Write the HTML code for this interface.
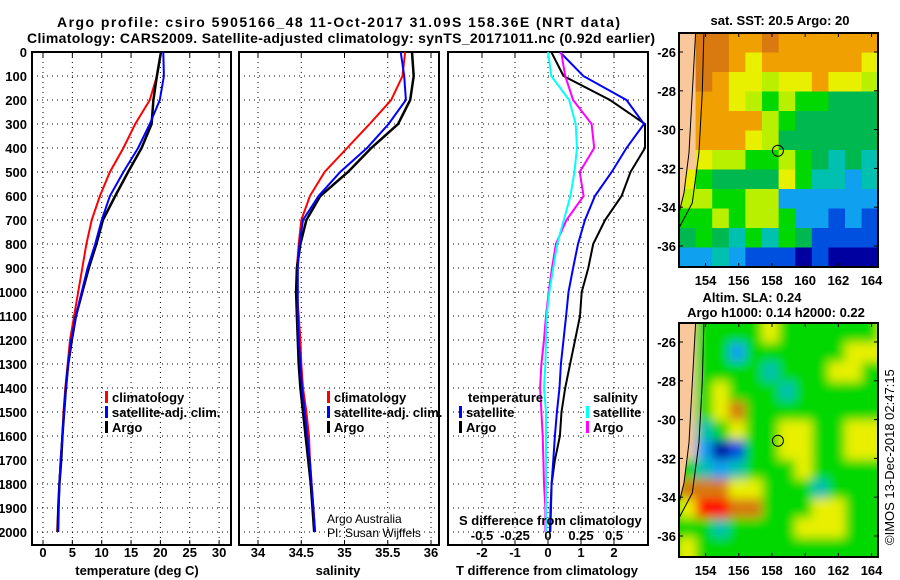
<!DOCTYPE html>
<html><head><meta charset="utf-8"><style>
html,body{margin:0;padding:0;background:#fff;}
svg{display:block;font-family:"Liberation Sans",sans-serif;}
.b{font-weight:bold;font-size:13px;}
</style></head><body>
<svg id="fig" width="900" height="580" viewBox="0 0 900 580" xmlns="http://www.w3.org/2000/svg">
<defs>
<filter id="blur" x="-0.2" y="-0.2" width="1.4" height="1.4"><feGaussianBlur stdDeviation="5"/></filter>
<clipPath id="clipTop"><rect x="679" y="33" width="199" height="234"/></clipPath>
<clipPath id="clipBot"><rect x="679" y="323" width="199" height="234"/></clipPath>
<clipPath id="c1"><rect x="32" y="52" width="199" height="493"/></clipPath>
<clipPath id="c2"><rect x="239" y="52" width="200" height="493"/></clipPath>
<clipPath id="c3"><rect x="448" y="52" width="200" height="493"/></clipPath>
</defs>
<text x="57" y="27" class="b" style="font-size:14px" textLength="563">Argo profile: csiro 5905166_48 11-Oct-2017 31.09S 158.36E (NRT data)</text>
<text x="27" y="43" class="b" style="font-size:14px" textLength="628">Climatology: CARS2009. Satellite-adjusted climatology: synTS_20171011.nc (0.92d earlier)</text>
<g id="axes"></g>
<g id="maps"></g>
<text x="327" y="523" font-size="12">Argo Australia</text>
<text x="327" y="537" font-size="12">PI: Susan Wijffels</text>
<text x="459" y="525" class="b">S difference from climatology</text>
<text x="137" y="575" class="b" text-anchor="middle">temperature (deg C)</text>
<text x="338" y="575" class="b" text-anchor="middle">salinity</text>
<text x="547" y="575" class="b" text-anchor="middle">T difference from climatology</text>
<text x="780" y="25" class="b" text-anchor="middle">sat. SST: 20.5 Argo: 20</text>
<text x="752" y="302" class="b" text-anchor="middle">Altim. SLA: 0.24</text>
<text x="776" y="317" class="b" text-anchor="middle">Argo h1000: 0.14 h2000: 0.22</text>
<text transform="translate(894,545) rotate(-90)" font-size="13">©IMOS 13-Dec-2018 02:47:15</text>
</svg>
<script>
const depths=[0,100,200,300,400,500,600,700,800,900,1000,1100,1200,1300,1400,1500,1600,1700,1800,1900,2000];
const tempClim=[20.1,19.4,18.2,15.7,13.7,11.4,9.7,8.3,7.4,6.7,6.0,5.3,4.6,4.2,3.8,3.5,3.3,3.0,2.8,2.6,2.4];
const tempSat=[20.5,20.6,19.9,18.2,16.2,13.7,11.4,10.0,8.9,7.6,6.6,5.6,4.8,4.3,3.9,3.6,3.3,3.0,2.8,2.7,2.6];
const tempArgo=[20.1,19.4,18.8,18.5,16.8,14.5,12.3,10.2,9.1,7.8,6.7,5.6,4.9,4.3,3.9,3.6,3.3,3.1,2.8,2.6,2.5];
const salClim=[35.70,35.67,35.54,35.29,35.03,34.77,34.60,34.50,34.47,34.45,34.45,34.47,34.49,34.50,34.52,34.56,34.59,34.60,34.62,34.64,34.66];
const salSat=[35.65,35.69,35.71,35.51,35.26,34.95,34.70,34.52,34.48,34.46,34.46,34.46,34.47,34.49,34.51,34.54,34.57,34.60,34.62,34.64,34.66];
const salArgo=[35.78,35.80,35.76,35.62,35.31,35.04,34.72,34.56,34.49,34.45,34.44,34.45,34.46,34.47,34.49,34.52,34.55,34.58,34.61,34.63,34.65];
const tDiffSat=[0.36,1.07,2.38,2.91,2.38,1.93,1.42,1.12,0.91,0.76,0.62,0.55,0.47,0.39,0.35,0.27,0.21,0.16,0.11,0.09,0.07];
const tDiffArgo=[0.10,0.47,1.88,2.94,2.94,2.50,2.23,1.73,1.37,1.22,1.02,0.97,0.82,0.67,0.52,0.41,0.36,0.21,0.11,0.08,0.06];
const sDiffSat=[0.00,0.025,0.16,0.21,0.22,0.20,0.17,0.12,0.07,0.04,0.01,-0.01,-0.015,-0.02,-0.03,-0.015,-0.015,-0.015,-0.015,-0.015,-0.015];
const sDiffArgo=[0.10,0.13,0.19,0.33,0.35,0.24,0.27,0.14,0.06,0.03,0.005,-0.015,-0.03,-0.05,-0.06,-0.05,-0.04,-0.035,-0.03,-0.02,-0.02];
const depthTicks=[0,100,200,300,400,500,600,700,800,900,1000,1100,1200,1300,1400,1500,1600,1700,1800,1900,2000];
const tempTicks=[0,5,10,15,20,25,30];
const salTicks=[34,34.5,35,35.5,36];
const tDiffTicks=[-2,-1,0,1,2];
const sDiffTicks=[-0.5,-0.25,0,0.25,0.5];
const sDiffLabels=["-0.5","-0.25","0","0.25","0.5"];
const lonTicks=[154,156,158,160,162,164];
const latTicks=[-26,-28,-30,-32,-34,-36];
const sstGrid=["LooOOoOOOOOO","LooOyOOOOOOy","LoOyyYyyOyyY","LOOyYgYggGGG","LOOOOYgGGGGG","LOOOyYGGGGGG","LyYYggYgGtGt","ygGGGGygttct","YYggYYcccccc","ggYgYYgccbcb","GgGtgtgGbbbb","cctcbbbnbnnn"];
const slaGrid=["Lggggyggggggy","Lggcggggggyyy","Lggggtgggyygg","Lgygggtgggggg","Lgyoggggggggg","Ltgyggyyggyyy","Lcnbggyyggyyy","gtctgggyggggg","oooyygggtgggg","yrroogggyyggg","ggtggggyyyggg","ygggggggggggg"];
const NS="http://www.w3.org/2000/svg";
const axes=document.getElementById('axes');
const maps=document.getElementById('maps');
function mk(tag,attrs,parent){const e=document.createElementNS(NS,tag);for(const k in attrs)e.setAttribute(k,attrs[k]);(parent||axes).appendChild(e);return e;}
const yD=d=>52+0.24*d;
const xT=t=>43+t*5.87;
const xS=s=>258+(s-34)*86.5;
const xTD=t=>548+t*33;
const xSD=s=>548+s*132;
function panel(x0,x1,xs,ticks,labels,name){
  const g=mk('g',{});
  
  
  depthTicks.forEach(d=>{ if(d>0) mk('line',{x1:x0,x2:x1,y1:yD(d),y2:yD(d),stroke:'#000','stroke-dasharray':'1,4'},g);});
  ticks.forEach((t,i)=>{const x=xs(t);
    mk('line',{x1:x,x2:x,y1:52,y2:545,stroke:'#000','stroke-dasharray':'1,4'},g);
    mk('line',{x1:x,x2:x,y1:52,y2:57,stroke:'#000'},g);
    mk('line',{x1:x,x2:x,y1:540,y2:545,stroke:'#000'},g);
    if(labels){const tx=mk('text',{x:x,y:557,'text-anchor':'middle',class:'b'},g);tx.textContent=labels[i];}
  });
  mk('rect',{x:x0,y:52,width:x1-x0,height:493,fill:'none',stroke:'#000','stroke-width':2},g);
  return g;
}
panel(32,231,xT,tempTicks,tempTicks.map(String),'temperature-panel');
panel(239,439,xS,salTicks,salTicks.map(String),'salinity-panel');
panel(448,648,xTD,tDiffTicks,tDiffTicks.map(String),'difference-panel');
sDiffTicks.forEach((s,i)=>{const t=mk('text',{x:xSD(s),y:540,'text-anchor':'middle',class:'b'});
  
  
  t.textContent=sDiffLabels[i];});
depthTicks.forEach(d=>{const t=mk('text',{x:27,y:yD(d)+5,'text-anchor':'end',class:'b'});
  
  
  t.textContent=d;});
function line(vals,xs,color,w,clip,name){
  const pts=vals.map((v,i)=>xs(v).toFixed(1)+','+yD(depths[i]).toFixed(1)).join(' ');
  const p=mk('polyline',{points:pts,fill:'none',stroke:color,'stroke-width':w,'clip-path':'url(#'+clip+')'});
  
  
}
line(tempClim,xT,'#f00',2,'c1','temp-climatology-line');
line(tempArgo,xT,'#000',2.5,'c1','temp-argo-line');
line(tempSat,xT,'#00f',2,'c1','temp-satellite-line');
line(salClim,xS,'#f00',2,'c2','sal-climatology-line');
line(salArgo,xS,'#000',2.5,'c2','sal-argo-line');
line(salSat,xS,'#00f',2,'c2','sal-satellite-line');
line(tDiffArgo,xTD,'#000',2,'c3','tdiff-argo-line');
line(tDiffSat,xTD,'#00f',2,'c3','tdiff-satellite-line');
line(sDiffArgo,xSD,'#f0f',2,'c3','sdiff-argo-line');
line(sDiffSat,xSD,'#0ff',2,'c3','sdiff-satellite-line');
function legend(x,y,color,label,name){
  const g=mk('g',{});
  
  
  mk('rect',{x:x,y:y-11,width:3,height:12,fill:color},g);
  const t=mk('text',{x:x+7,y:y,class:'b','font-size':'12'},g);t.textContent=label;
}
legend(105,402,'#f00','climatology','legend-temp-climatology');
legend(105,417,'#00f','satellite-adj. clim.','legend-temp-satellite');
legend(105,432,'#000','Argo','legend-temp-argo');
legend(327,402,'#f00','climatology','legend-sal-climatology');
legend(327,417,'#00f','satellite-adj. clim.','legend-sal-satellite');
legend(327,432,'#000','Argo','legend-sal-argo');
(function(){const t=mk('text',{x:468,y:402,class:'b'});t.textContent='temperature';
 
 const s=mk('text',{x:593,y:402,class:'b'});s.textContent='salinity';
 })();
legend(459,417,'#00f','satellite','legend-tdiff-satellite');
legend(459,432,'#000','Argo','legend-tdiff-argo');
legend(586,417,'#0ff','satellite','legend-sdiff-satellite');
legend(586,432,'#f0f','Argo','legend-sdiff-argo');
const colors={L:'#f8c89a',o:'#d87a10',O:'#f0a000',y:'#e8f000',Y:'#b8f000',g:'#00d800',G:'#00b850',t:'#00c0b0',c:'#10a0f0',b:'#0050e0',n:'#0000a0',r:'#ff0000'};
const mx=lon=>679+(lon-152.4)*16.6;
function drawMap(grid,y0,clip,blur,name){
  const g=mk('g',{'clip-path':'url(#'+clip+')'},maps);
  
  
  const inner=mk('g',blur?{filter:'url(#blur)'}:{},g);
  mk('rect',{x:665,y:y0-15,width:230,height:265,fill:colors.g},inner);
  grid.forEach((row,r)=>{[...row].forEach((ch,c)=>{
    const ext=(r===grid.length-1)?15:0;
    mk('rect',{x:679+c*16.6,y:y0+r*19.5-(r===0?15:0),width:17.2,height:20+ext+(r===0?15:0),fill:colors[ch]},inner);});});
  mk('polygon',{points:`679,${y0} ${mx(153.4)},${y0} ${mx(153.2)},${y0+60} ${mx(153.0)},${y0+120} ${mx(152.7)},${y0+160} 679,${y0+180}`,fill:colors.L},g);
  mk('polyline',{points:`${mx(153.4)},${y0} ${mx(153.2)},${y0+60} ${mx(153.0)},${y0+120} ${mx(152.7)},${y0+160} 679,${y0+180}`,fill:'none',stroke:'#000'},g);
  mk('polyline',{points:`${mx(153.9)},${y0} ${mx(153.8)},${y0+60} ${mx(153.6)},${y0+120} ${mx(153.2)},${y0+170} 679,${y0+195}`,fill:'none',stroke:'#000'},g);
  const y=lat=>y0+19+(-26-lat)*19.4;
  const ci=mk('circle',{cx:mx(158.36),cy:y(-31.09),r:5.5,fill:'none',stroke:'#000'},g);
  
  
  mk('rect',{x:679,y:y0,width:199,height:234,fill:'none',stroke:'#000','stroke-width':2},maps);
  lonTicks.forEach(l=>{mk('line',{x1:mx(l),x2:mx(l),y1:y0,y2:y0+4,stroke:'#000'},maps);
    mk('line',{x1:mx(l),x2:mx(l),y1:y0+230,y2:y0+234,stroke:'#000'},maps);
    const t=mk('text',{x:mx(l),y:y0+252,'text-anchor':'middle',class:'b'},maps);t.textContent=l;
    });
  latTicks.forEach(l=>{mk('line',{x1:679,x2:683,y1:y(l),y2:y(l),stroke:'#000'},maps);
    mk('line',{x1:874,x2:878,y1:y(l),y2:y(l),stroke:'#000'},maps);
    const t=mk('text',{x:676,y:y(l)+5,'text-anchor':'end',class:'b'},maps);t.textContent=l;
    });
}
drawMap(sstGrid,33,'clipTop',false,'sst-map');
drawMap(slaGrid,323,'clipBot',true,'sla-map');
</script>
</body></html>
